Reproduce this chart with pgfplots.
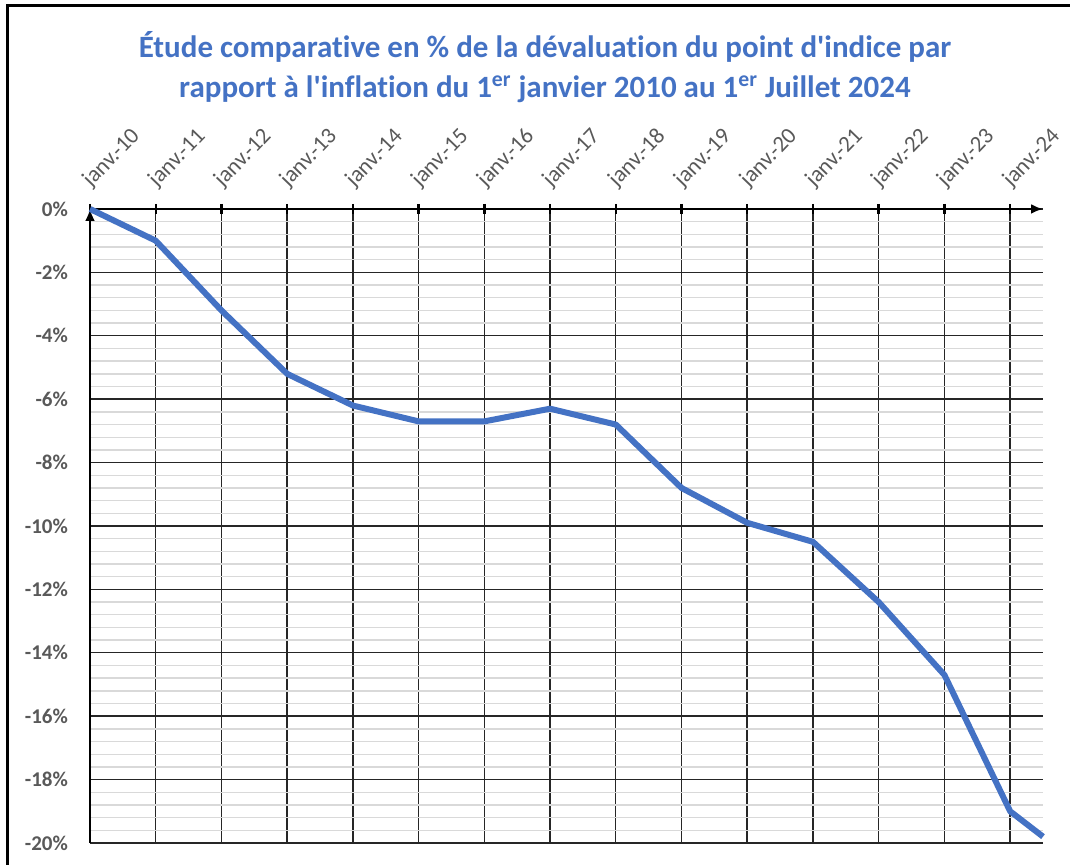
\documentclass[border=0pt]{standalone}
\usepackage{fontspec}
\setmainfont[Ligatures=NoCommon]{Carlito}
\usepackage{pgfplots}
\pgfplotsset{compat=1.18}
\usetikzlibrary{arrows.meta}
\definecolor{xlBlue}{RGB}{68,114,196}
\definecolor{xlGrey}{RGB}{89,89,89}
\definecolor{xlMinor}{RGB}{217,217,217}

\begin{document}
\begin{tikzpicture}
  \useasboundingbox (0,0) rectangle (535pt,432.5pt);
  % cadre
  \draw[line width=1.5pt] (3.5pt,0) -- (3.5pt,429.5pt) -- (535pt,429.5pt);
  \begin{axis}[
    at={(45pt,11pt)}, anchor=south west,
    scale only axis, width=476.5pt, height=317pt,
    xmin=2010, xmax=2024.5, ymin=-20, ymax=0,
    axis x line=top, axis y line=left,
    axis line style={black, line width=1.3pt, -{Latex[length=6pt,width=5pt]}},
    xtick={2010,...,2024},
    xticklabels={janv.-10,janv.-11,janv.-12,janv.-13,janv.-14,janv.-15,janv.-16,janv.-17,janv.-18,janv.-19,janv.-20,janv.-21,janv.-22,janv.-23,janv.-24},
    xticklabel style={rotate=46, anchor=south west, font=\fontsize{11.4}{12}\selectfont, text=xlGrey, inner sep=1pt, xshift=5pt, yshift=2pt},
    x tick style={black, line width=1.2pt},
    major tick length=5pt, tick align=center,
    ytick={-20,-18,...,0},
    yticklabels={-20\%,-18\%,-16\%,-14\%,-12\%,-10\%,-8\%,-6\%,-4\%,-2\%,0\%},
    yticklabel style={font=\bfseries\fontsize{10.5}{12}\selectfont, text=xlGrey, xshift=-5pt},
    y tick style={draw=none},
    minor y tick num=4,
    grid=both,
    major grid style={black!85, line width=0.7pt},
    minor grid style={xlMinor, line width=0.7pt},
    clip=false,
  ]
    \addplot[xlBlue, line width=3pt, line join=round, no marks] coordinates {
      (2010,0) (2011,-1.0) (2012,-3.2) (2013,-5.2) (2014,-6.2) (2015,-6.7)
      (2016,-6.7) (2017,-6.3) (2018,-6.8) (2019,-8.8) (2020,-9.9)
      (2021,-10.5) (2022,-12.4) (2023,-14.7) (2024,-19.0) (2024.5,-19.8)
    };
  \end{axis}
  \node[text=xlBlue, font=\bfseries\fontsize{15.5}{20}\selectfont, align=center]
    at (272.5pt,399pt)
    {Étude comparative en \% de la dévaluation du point d\textquotesingle indice par\\
     rapport à l\textquotesingle inflation du 1\textsuperscript{er} janvier 2010 au 1\textsuperscript{er} Juillet 2024};
\end{tikzpicture}
\end{document}
